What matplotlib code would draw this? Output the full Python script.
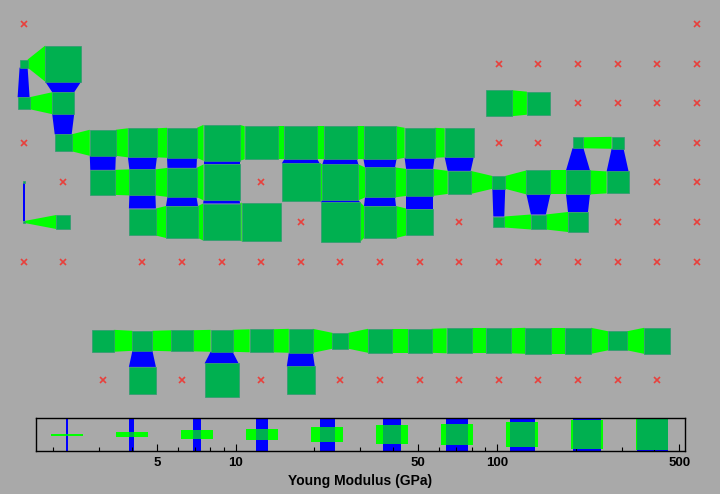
import numpy as np
import matplotlib
matplotlib.use("Agg")
import matplotlib.pyplot as plt
from matplotlib.patches import Polygon, Rectangle
from matplotlib.ticker import LogLocator, NullFormatter, FixedLocator

# Young modulus (GPa) of every lattice site, one list per row.
# N = no site, 0 = empty site (red cross), > 0 = filled site
N = None
row0 = [0, N, N, N, N, N, N, N, N, N, N, N, N, N, N, N, N, 0]
row1 = [5.5, 312, N, N, N, N, N, N, N, N, N, N, 0, 0, 0, 0, 0, 0]
row2 = [9.7, 41, N, N, N, N, N, N, N, N, N, N, 74, 48, 0, 0, 0, 0]
row3 = [0, 20, 74, 114, 131, 312, 202, 202, 202, 202, 131, 114, 0, 0, 8.4, 9.7, 0, 0]
row4 = [2.3, 0, 64, 74, 114, 312, 0, 416, 312, 131, 85, 48, 11, 55, 55, 41, 0, 0]
row5 = [2.3, 13, N, 85, 175, 360, 481, 0, 520, 175, 85, 0, 8.4, 15, 31, 0, 0, 0]
row6 = [0, 0, N, 0, 0, 0, 0, 0, 0, 0, 0, 0, 0, 0, 0, 0, 0, 0]
row7 = [N] * 18
row8 = [N, N, 41, 31, 36, 41, 48, 55, 17, 55, 55, 64, 64, 74, 74, 27, 74, N]
row9 = [N, N, 0, 85, 0, 234, 0, 98, 0, 0, 0, 0, 0, 0, 0, 0, 0, N]
rows = [row0, row1, row2, row3, row4, row5, row6, row7, row8, row9]

e_min, e_max = 1.72, 525.0
legend_values = [2.27, 4.0, 7.1, 12.6, 22.4, 39.7, 70.4, 125, 222, 394]
tick_values = [5, 10, 50, 100, 500]
tick_labels = ["5", "10", "50", "100", "500"]

bg = "#a9a9a9"
node_col = "#00b050"
h_col = "#00ff00"
v_col = "#0000ff"


def frac(e):
    return np.clip(np.log(e / e_min) / np.log(e_max / e_min), 0, 1)


fig = plt.figure(figsize=(7.2, 4.94), dpi=100, facecolor=bg)
ax = fig.add_axes([0, 0, 1, 1])
ax.set_facecolor(bg)
cell = 39.6
ax.set_xlim(-23.6 / cell, (720 - 23.6) / cell)
ax.set_ylim((494 - 24) / cell, -24 / cell)
ax.axis("off")

nr, nc = len(rows), len(rows[0])


def filled(r, c):
    return 0 <= r < nr and 0 <= c < nc and rows[r][c] is not None and rows[r][c] > 0


# bars between neighbouring filled sites
for r in range(nr):
    for c in range(nc):
        if not filled(r, c):
            continue
        sa = frac(rows[r][c])
        if filled(r, c + 1):
            sb = frac(rows[r][c + 1])
            pts = [(c + sa / 2, r - sa / 2), (c + 1 - sb / 2, r - sb / 2),
                   (c + 1 - sb / 2, r + sb / 2), (c + sa / 2, r + sa / 2)]
            ax.add_patch(Polygon(pts, closed=True, fc=h_col, ec="none", zorder=1))
        if filled(r + 1, c):
            sb = frac(rows[r + 1][c])
            pts = [(c - sa / 2, r + sa / 2), (c + sa / 2, r + sa / 2),
                   (c + sb / 2, r + 1 - sb / 2), (c - sb / 2, r + 1 - sb / 2)]
            ax.add_patch(Polygon(pts, closed=True, fc=v_col, ec="none", zorder=1))

# sites
ex, ey = [], []
for r in range(nr):
    for c in range(nc):
        v = rows[r][c]
        if v is None:
            continue
        if v == 0:
            ex.append(c)
            ey.append(r)
        else:
            s = frac(v)
            ax.add_patch(Rectangle((c - s / 2, r - s / 2), s, s, fc=node_col,
                                   ec="#2f9a70", lw=0.5, zorder=2))
ax.plot(ex, ey, "x", color="#e8403c", ms=4, mew=1.2, zorder=3)

# legend strip on a log scale
left_px, right_px, top_px, bot_px = 36, 685, 418, 451
lax = fig.add_axes([left_px / 720, 1 - bot_px / 494, (right_px - left_px) / 720,
                    (bot_px - top_px) / 494])
lax.set_facecolor(bg)
lax.set_xscale("log")
lax.set_xlim(e_min, e_max)
lax.set_ylim(-0.5, 0.5)
w_px = right_px - left_px
h_px = bot_px - top_px
dex_per_px = np.log10(e_max / e_min) / w_px

for v in legend_values:
    s = frac(v)
    lv = np.log10(v)
    half_bar = 16 * dex_per_px
    s_px = max(s * h_px, 2.0)
    half_s = s_px / 2 * dex_per_px
    s_h = s_px / h_px
    lax.add_patch(Rectangle((10 ** (lv - half_s), -0.5), 10 ** (lv + half_s) - 10 ** (lv - half_s),
                            1.0, fc=v_col, ec="none", zorder=1))
    lax.add_patch(Rectangle((10 ** (lv - half_bar), -s_h / 2), 10 ** (lv + half_bar) - 10 ** (lv - half_bar),
                            s_h, fc=h_col, ec="none", zorder=1))
    lax.add_patch(Rectangle((10 ** (lv - half_s), -s_h / 2), 10 ** (lv + half_s) - 10 ** (lv - half_s),
                            s_h, fc=node_col, ec="none", zorder=2))

lax.xaxis.set_major_locator(FixedLocator(tick_values))
lax.set_xticklabels(tick_labels, fontweight="bold", fontsize=9.5, family="Liberation Sans")
lax.xaxis.set_minor_locator(LogLocator(base=10, subs=np.arange(1, 10)))
lax.xaxis.set_minor_formatter(NullFormatter())
lax.tick_params(axis="x", which="major", direction="in", length=5, width=0.8, pad=4)
lax.tick_params(axis="x", which="minor", direction="in", length=3, width=0.8)
lax.set_yticks([])
for sp in lax.spines.values():
    sp.set_linewidth(1.0)
lax.set_xlabel("Young Modulus (GPa)", fontweight="bold", fontsize=10,
               family="Liberation Sans", labelpad=4)

fig.savefig("out.png", dpi=100, facecolor=bg)
